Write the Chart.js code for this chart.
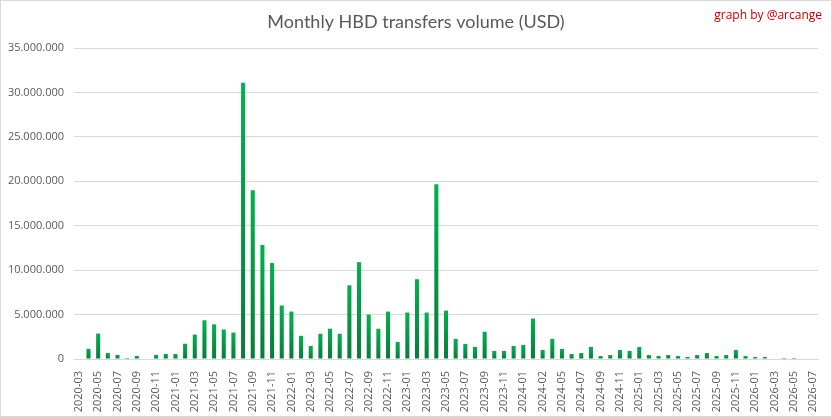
<!DOCTYPE html>
<html lang="en">
<head>
  <meta charset="UTF-8">
  <title>Monthly HBD transfers volume (USD)</title>
  <script src="https://cdn.jsdelivr.net/npm/chart.js"></script>
  <style>
    body { margin: 0; background: #fff; }
    #wrap { width: 832px; height: 417px; }
  </style>
</head>
<body>
  <div id="wrap"><canvas id="hbdChart"></canvas></div>

  <script>
    // months (one label in 2024 is "2024-02" twice, as in the original sheet)
    const months = [
      '2020-03','2020-04','2020-05','2020-06','2020-07','2020-08','2020-09','2020-10','2020-11','2020-12',
      '2021-01','2021-02','2021-03','2021-04','2021-05','2021-06','2021-07','2021-08','2021-09','2021-10','2021-11','2021-12',
      '2022-01','2022-02','2022-03','2022-04','2022-05','2022-06','2022-07','2022-08','2022-09','2022-10','2022-11','2022-12',
      '2023-01','2023-02','2023-03','2023-04','2023-05','2023-06','2023-07','2023-08','2023-09','2023-10','2023-11','2023-12',
      '2024-01','2024-02','2024-02','2024-04','2024-05','2024-06','2024-07','2024-08','2024-09','2024-10','2024-11','2024-12',
      '2025-01','2025-02','2025-03','2025-04','2025-05','2025-06','2025-07','2025-08','2025-09','2025-10','2025-11','2025-12',
      '2026-01','2026-02','2026-03','2026-04','2026-05','2026-06','2026-07'
    ];

    // volume in USD
    const volume = [
      null, 1150000, 2860000, 690000, 460000, 110000, 340000, null, 460000, 570000,
      570000, 1720000, 2750000, 4360000, 3900000, 3320000, 2980000, 31100000, 18980000, 12840000, 10800000, 6020000,
      5340000, 2610000, 1480000, 2840000, 3410000, 2840000, 8300000, 10900000, 5000000, 3410000, 5340000, 1930000,
      5230000, 8980000, 5230000, 19660000, 5450000, 2270000, 1700000, 1360000, 3070000, 910000, 910000, 1480000,
      1590000, 4550000, 1020000, 2270000, 1140000, 570000, 680000, 1360000, 340000, 450000, 1020000, 910000,
      1360000, 450000, 340000, 450000, 340000, 230000, 450000, 680000, 340000, 450000, 1020000, 340000,
      230000, 230000, null, 110000, 110000, null, null
    ];

    const chartTitle = 'Monthly HBD transfers volume (USD)';
    const credit = 'graph by @arcange';

    const fmt = v => String(v).replace(/\B(?=(\d{3})+(?!\d))/g, '.');

    // excel-like gradient fill on each bar
    function barFill(ctx) {
      const chart = ctx.chart;
      const v = ctx.raw;
      if (!chart.chartArea || v == null) return '#00a84a';
      const y = chart.scales.y;
      const top = y.getPixelForValue(v);
      const base = y.getPixelForValue(0);
      const g = chart.ctx.createLinearGradient(0, top, 0, base);
      g.addColorStop(0, '#00b24f');
      g.addColorStop(1, '#0b7a3b');
      return g;
    }

    const decor = {
      id: 'decor',
      afterDraw(chart) {
        const c = chart.ctx;
        c.save();
        c.strokeStyle = '#d9d9d9';
        c.lineWidth = 1;
        c.strokeRect(0.5, 0.5, chart.width - 1, chart.height - 1);
        c.fillStyle = '#595959';
        c.font = '18px Lato, "Open Sans", sans-serif';
        c.textAlign = 'center';
        c.textBaseline = 'middle';
        c.fillText(chartTitle, 416, 22);
        c.fillStyle = '#c00000';
        c.font = '12px "Open Sans", sans-serif';
        c.textAlign = 'right';
        c.fillText(credit, 822, 16);
        c.restore();
      }
    };

    new Chart(document.getElementById('hbdChart'), {
      type: 'bar',
      data: {
        labels: months,
        datasets: [{
          label: 'Volume',
          data: volume,
          backgroundColor: barFill,
          barPercentage: 0.42,
          categoryPercentage: 1
        }]
      },
      options: {
        responsive: true,
        maintainAspectRatio: false,
        animation: false,
        layout: { padding: { left: 0, right: 14, top: 48, bottom: 0 } },
        plugins: {
          legend: { display: false },
          title: { display: false },
          tooltip: { enabled: false }
        },
        scales: {
          x: {
            grid: { display: false },
            border: { color: '#d9d9d9' },
            ticks: {
              autoSkip: false,
              minRotation: 90,
              maxRotation: 90,
              padding: 4,
              color: '#595959',
              font: { size: 11, family: '"Open Sans", sans-serif' },
              callback: function (val, i) { return i % 2 === 0 ? this.getLabelForValue(val) : ''; }
            },
            afterFit: s => { s.height = 58; }
          },
          y: {
            min: 0,
            max: 35000000,
            grid: { color: '#d9d9d9', drawTicks: false },
            border: { display: false },
            ticks: {
              stepSize: 5000000,
              padding: 10,
              color: '#595959',
              font: { size: 11, family: '"Open Sans", sans-serif' },
              callback: v => fmt(v)
            },
            afterFit: s => { s.width = 74; }
          }
        }
      },
      plugins: [decor]
    });
  </script>
</body>
</html>
